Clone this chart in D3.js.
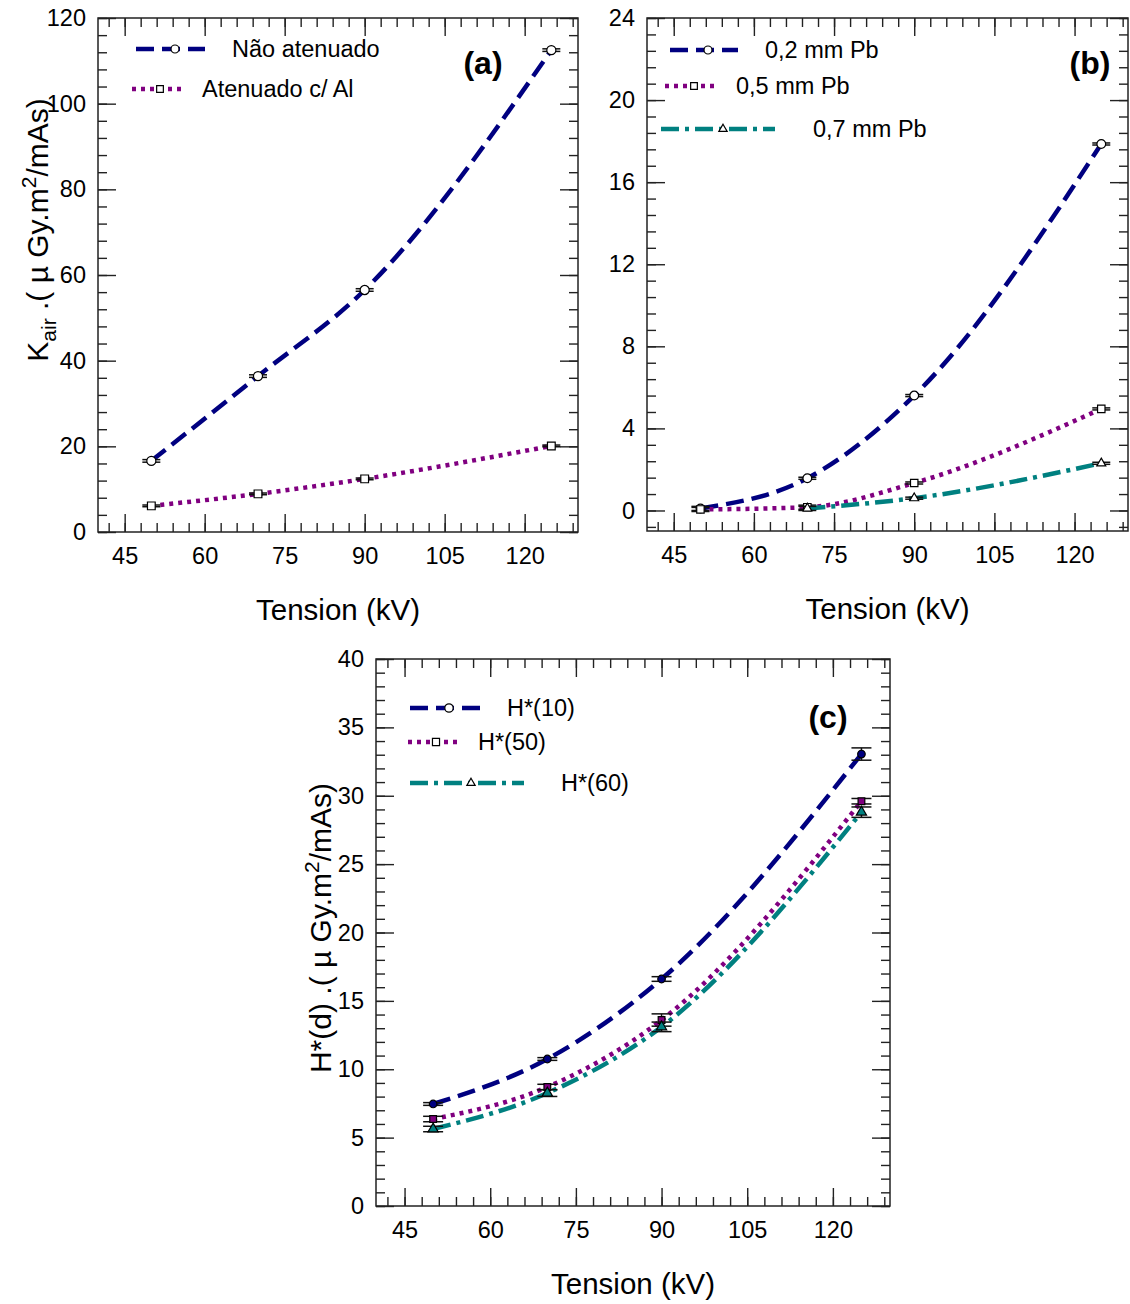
<!DOCTYPE html>
<html>
<head>
<meta charset="utf-8">
<script src="https://cdn.jsdelivr.net/npm/d3@7"></script>
<style>
  body { margin: 0; background: #fff; }
  svg text { font-family: "Liberation Sans", Arial, sans-serif; fill: #000; }
</style>
</head>
<body>
<div id="chart"></div>
<script>
// tube tension (kV)
const tension = [50, 70, 90, 125];
const tension07 = [70, 90, 125];
const xTicks = [45, 60, 75, 90, 105, 120];

// (a) air kerma, uGy.m2/mAs
const kairNaoAtenuado = [16.6, 36.4, 56.5, 112.5];
const kairAtenuadoAl = [6.1, 8.9, 12.4, 20.1];
const errNaoAtenuado = [0.3, 0.3, 0.3, 0.3];
const errAtenuadoAl = [0.2, 0.2, 0.2, 0.2];

// (b) behind lead
const pb02 = [0.1, 1.57, 5.6, 17.86];
const pb05 = [0.05, 0.16, 1.34, 4.95];
const pb07 = [0.1, 0.6, 2.3];
const errPb02 = [0.1, 0.05, 0.05, 0.05];
const errPb05 = [0.1, 0.1, 0.05, 0.05];
const errPb07 = [0.1, 0.05, 0.05];

// (c) ambient dose equivalent
const h10 = [7.46, 10.75, 16.6, 33.05];
const h50 = [6.36, 8.7, 13.6, 29.6];
const h60 = [5.63, 8.26, 13.1, 28.8];
const errH10 = [0.1, 0.1, 0.17, 0.45];
const errH50 = [0.2, 0.2, 0.45, 0.2];
const errH60 = [0.2, 0.25, 0.35, 0.38];

const navy = '#000080', purple = '#800080', teal = '#008080';
const dashed = '18,8', dotted = '4,5', dashDot = '18,6,4,6';

let svg = d3.select('#chart').append('svg')
    .attr('width', 1130)
    .attr('height', 1304)

function drawPanel(p) {
    let x = d3.scaleLinear().domain([40, 130]).range([p.left, p.right])
    let y = d3.scaleLinear().domain(p.yDomain).range([p.bottom, p.top])
    let g = svg.append('g')

    function addAxis(axis, ty, tx) {
        let a = g.append('g')
            .attr('transform', 'translate(' + (tx || 0) + ',' + (ty || 0) + ')')
            .call(axis)
        a.select('.domain').remove()
        a.selectAll('line').attr('stroke', '#222').attr('stroke-width', 1.4)
        a.selectAll('text')
            .attr('font-size', 23.5)
            .attr('font-family', '"Liberation Sans", Arial, sans-serif')
        return a
    }

    let xMinor = d3.range(42, 130, 3)
    // minor then major ticks on all four sides, pointing inwards
    addAxis(d3.axisBottom(x).tickValues(xMinor).tickSize(-9).tickFormat(''), p.bottom)
    addAxis(d3.axisBottom(x).tickValues(xTicks).tickSize(-18).tickPadding(15), p.bottom)
    addAxis(d3.axisTop(x).tickValues(xMinor).tickSize(-9).tickFormat(''), p.top)
    addAxis(d3.axisTop(x).tickValues(xTicks).tickSize(-18).tickFormat(''), p.top)
    addAxis(d3.axisLeft(y).tickValues(p.yMinor).tickSize(-9).tickFormat(''), 0, p.left)
    addAxis(d3.axisLeft(y).tickValues(p.yTicks).tickSize(-18).tickPadding(12), 0, p.left)
    addAxis(d3.axisRight(y).tickValues(p.yMinor).tickSize(-9).tickFormat(''), 0, p.right)
    addAxis(d3.axisRight(y).tickValues(p.yTicks).tickSize(-18).tickFormat(''), 0, p.right)

    g.append('rect')
        .attr('x', p.left).attr('y', p.top)
        .attr('width', p.right - p.left).attr('height', p.bottom - p.top)
        .attr('fill', 'none').attr('stroke', '#222').attr('stroke-width', 1.5)

    let line = d3.line()
        .x(function (d) { return x(d.t) })
        .y(function (d) { return y(d.v) })
        .curve(d3.curveMonotoneX)

    p.series.forEach(function (s) {
        let pts = s.xs.map(function (t, i) { return { t: t, v: s.ys[i], e: s.errs[i] } })

        g.append('path')
            .datum(pts)
            .attr('d', line)
            .attr('fill', 'none')
            .attr('stroke', s.color)
            .attr('stroke-width', 4.5)
            .attr('stroke-dasharray', s.dash)

        // vertical error bars with caps
        let eb = g.append('g').attr('stroke', '#111').attr('stroke-width', 1.5)
        pts.forEach(function (d) {
            let cx = x(d.t)
            eb.append('line').attr('x1', cx).attr('x2', cx).attr('y1', y(d.v - d.e)).attr('y2', y(d.v + d.e))
            eb.append('line').attr('x1', cx - p.cap).attr('x2', cx + p.cap).attr('y1', y(d.v - d.e)).attr('y2', y(d.v - d.e))
            eb.append('line').attr('x1', cx - p.cap).attr('x2', cx + p.cap).attr('y1', y(d.v + d.e)).attr('y2', y(d.v + d.e))
        })

        g.selectAll(null)
            .data(pts)
            .enter()
            .append('path')
            .attr('transform', function (d) { return 'translate(' + x(d.t) + ',' + y(d.v) + ')' })
            .attr('d', d3.symbol().type(s.symbol).size(s.size))
            .attr('fill', p.filled ? s.color : '#fff')
            .attr('stroke', '#000')
            .attr('stroke-width', 1.2)
    })

    // legend
    p.legend.forEach(function (l, i) {
        let s = p.series[i]
        g.append('line')
            .attr('x1', l.x1).attr('x2', l.x2).attr('y1', l.y).attr('y2', l.y)
            .attr('stroke', s.color).attr('stroke-width', 4.5)
            .attr('stroke-dasharray', s.dash)
        g.append('path')
            .attr('transform', 'translate(' + l.mx + ',' + l.y + ')')
            .attr('d', d3.symbol().type(s.symbol).size(l.size || 60))
            .attr('fill', '#fff').attr('stroke', '#000').attr('stroke-width', 1.2)
        g.append('text')
            .attr('x', l.tx).attr('y', l.y).attr('dy', '0.36em')
            .attr('font-size', 23.5)
            .text(s.name)
    })

    g.append('text')
        .attr('x', p.tag[0]).attr('y', p.tag[1])
        .attr('text-anchor', 'middle')
        .attr('font-size', 32).attr('font-weight', 'bold')
        .text(p.tag[2])

    g.append('text')
        .attr('x', (p.left + p.right) / 2).attr('y', p.bottom + 88)
        .attr('text-anchor', 'middle')
        .attr('font-size', 29.5)
        .text('Tension (kV)')

    if (p.yTitle) {
        let t = g.append('text')
            .attr('transform', 'translate(' + p.yTitle.x + ',' + p.yTitle.y + ') rotate(-90)')
            .attr('text-anchor', 'middle')
            .attr('font-size', 30)
        t.append('tspan').text(p.yTitle.main)
        if (p.yTitle.sub) {
            t.append('tspan').attr('font-size', 21).attr('dy', 8).text(p.yTitle.sub)
            t.append('tspan').attr('dy', -8).text(' .( µ Gy.m')
        } else {
            t.append('tspan').text(' .( µ Gy.m')
        }
        t.append('tspan').attr('font-size', 21).attr('dy', -12).text('2')
        t.append('tspan').attr('dy', 12).text('/mAs)')
    }
}

drawPanel({
    left: 98, right: 578, top: 18, bottom: 532,
    yDomain: [0, 120], yTicks: d3.range(0, 121, 20), yMinor: d3.range(0, 121, 4),
    cap: 9, filled: false,
    series: [
        { name: 'Não atenuado', xs: tension, ys: kairNaoAtenuado, errs: errNaoAtenuado, color: navy, dash: dashed, symbol: d3.symbolCircle, size: 65 },
        { name: 'Atenuado c/ Al', xs: tension, ys: kairAtenuadoAl, errs: errAtenuadoAl, color: purple, dash: dotted, symbol: d3.symbolSquare, size: 60 }
    ],
    legend: [
        { x1: 136, x2: 205, y: 49, mx: 175, tx: 232, size: 50 },
        { x1: 132, x2: 185, y: 89, mx: 160, tx: 202, size: 45 }
    ],
    tag: [483, 74, '(a)'],
    yTitle: { x: 48, y: 230, main: 'K', sub: 'air' }
})

drawPanel({
    left: 647, right: 1128, top: 18, bottom: 531,
    yDomain: [-1, 24], yTicks: d3.range(0, 25, 4), yMinor: d3.range(-4, 121, 4).map(function (v) { return v / 5 }).filter(function (v) { return v >= -1 && v <= 24 }),
    cap: 9, filled: false,
    series: [
        { name: '0,2 mm Pb', xs: tension, ys: pb02, errs: errPb02, color: navy, dash: dashed, symbol: d3.symbolCircle, size: 60 },
        { name: '0,5 mm Pb', xs: tension, ys: pb05, errs: errPb05, color: purple, dash: dotted, symbol: d3.symbolSquare, size: 55 },
        { name: '0,7 mm Pb', xs: tension07, ys: pb07, errs: errPb07, color: teal, dash: dashDot, symbol: d3.symbolTriangle, size: 35 }
    ],
    legend: [
        { x1: 670, x2: 738, y: 50, mx: 708, tx: 765, size: 50 },
        { x1: 665, x2: 718, y: 86, mx: 694, tx: 736, size: 45 },
        { x1: 661, x2: 775, y: 129, mx: 723, tx: 813, size: 30 }
    ],
    tag: [1090, 74, '(b)'],
    yTitle: null
})

drawPanel({
    left: 376, right: 890, top: 659, bottom: 1206,
    yDomain: [0, 40], yTicks: d3.range(0, 41, 5), yMinor: d3.range(0, 41, 1),
    cap: 10, filled: true,
    series: [
        { name: 'H*(10)', xs: tension, ys: h10, errs: errH10, color: navy, dash: dashed, symbol: d3.symbolCircle, size: 45 },
        { name: 'H*(50)', xs: tension, ys: h50, errs: errH50, color: purple, dash: dotted, symbol: d3.symbolSquare, size: 45 },
        { name: 'H*(60)', xs: tension, ys: h60, errs: errH60, color: teal, dash: dashDot, symbol: d3.symbolTriangle, size: 45 }
    ],
    legend: [
        { x1: 410, x2: 480, y: 708, mx: 449, tx: 507, size: 55 },
        { x1: 408, x2: 460, y: 742, mx: 436, tx: 478, size: 50 },
        { x1: 410, x2: 524, y: 783, mx: 471, tx: 561, size: 30 }
    ],
    tag: [828, 728, '(c)'],
    yTitle: { x: 331, y: 928, main: 'H*(d)', sub: null }
})
</script>
</body>
</html>
